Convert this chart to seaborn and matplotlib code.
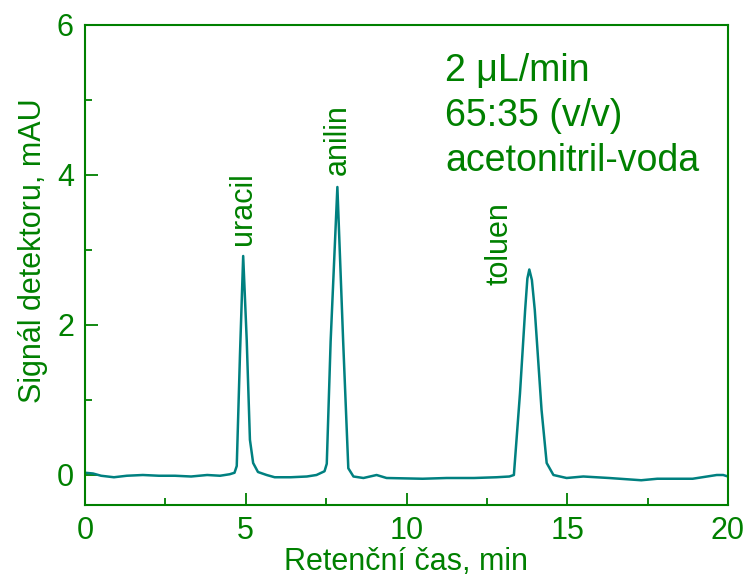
import matplotlib
matplotlib.use("Agg")
import matplotlib.pyplot as plt
from matplotlib.ticker import MultipleLocator
import seaborn as sns
import pandas as pd

# ---------------- data ----------------
cas_min = [0.0, 0.25, 0.5, 0.9, 1.3, 1.8, 2.3, 2.8, 3.3, 3.8, 4.2, 4.5, 4.65,
           4.72, 4.82, 4.92, 5.03, 5.13, 5.23, 5.38, 5.65, 5.9, 6.4, 6.9, 7.2,
           7.45, 7.52, 7.64, 7.85, 8.03, 8.19, 8.35, 8.66, 9.07, 9.38, 10.5,
           11.25, 12.1, 12.8, 13.2, 13.34, 13.53, 13.69, 13.76, 13.82, 13.9,
           13.99, 14.2, 14.36, 14.57, 14.98, 15.5, 16.3, 17.3, 17.8, 18.9,
           19.65, 19.85, 20.0]
signal_mau = [0.03, 0.02, -0.01, -0.03, -0.01, 0.0, -0.01, -0.01, -0.02, 0.0,
              -0.01, 0.01, 0.03, 0.12, 1.6, 2.92, 1.8, 0.47, 0.16, 0.04, 0.0,
              -0.03, -0.03, -0.02, 0.0, 0.05, 0.15, 1.78, 3.84, 1.78, 0.09,
              -0.02, -0.04, 0.0, -0.04, -0.05, -0.04, -0.04, -0.03, -0.02, 0.0,
              1.09, 2.2, 2.62, 2.74, 2.6, 2.2, 0.87, 0.16, 0.0, -0.04, -0.02,
              -0.04, -0.07, -0.05, -0.05, 0.0, 0.0, -0.02]

latky = ["uracil", "anilin", "toluen"]
latky_x = [4.92, 7.85, 12.9]
latky_y = [3.07, 4.0, 2.53]

podminky = ["2 \u03bcL/min", "65:35 (v/v)", "acetonitril-voda"]

zelena = "#008000"
cara = "#008080"

sns.set_style("white")
plt.rcParams['font.family'] = ['Liberation Sans', 'DejaVu Sans']

df = pd.DataFrame({"cas": cas_min, "signal": signal_mau})

fig = plt.figure(figsize=(7.48, 5.81), dpi=100)
ax = fig.add_axes([85/748, 1-505/581, (728-85)/748, (505-25)/581])

sns.lineplot(data=df, x="cas", y="signal", ax=ax, color=cara, linewidth=1.8)

ax.set_xlim(0, 20)
ax.set_ylim(-0.4, 6)
ax.xaxis.set_major_locator(MultipleLocator(5))
ax.xaxis.set_minor_locator(MultipleLocator(2.5))
ax.yaxis.set_major_locator(MultipleLocator(2))
ax.yaxis.set_minor_locator(MultipleLocator(1))
ax.tick_params(which="both", direction="in", colors=zelena, labelsize=22,
               top=False, right=False, bottom=True, left=True, width=1.3)
ax.tick_params(which="major", length=9)
ax.tick_params(which="minor", length=5)
ax.tick_params(axis="x", which="major", pad=8)
ax.tick_params(axis="y", which="major", pad=8)
for s in ax.spines.values():
    s.set_color(zelena)
    s.set_linewidth(1.5)

ax.set_xlabel("Retenční čas, min", color=zelena, fontsize=22)
ax.set_ylabel("Signál detektoru, mAU", color=zelena, fontsize=22)
ax.xaxis.set_label_coords(0.5, -0.088)
ax.yaxis.set_label_coords(-0.058, 0.53)

for nazev, x, y in zip(latky, latky_x, latky_y):
    ax.text(x, y, nazev, rotation=90, ha="center", va="bottom",
            color=zelena, fontsize=22)

ax.text(11.2, 5.62, "\n".join(podminky), ha="left", va="top",
        color=zelena, fontsize=27, linespacing=1.32)

fig.savefig("out.png", dpi=100)
